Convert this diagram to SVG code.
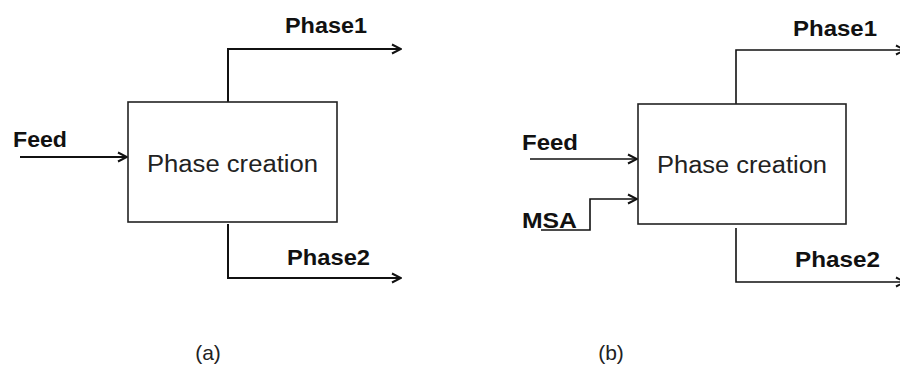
<svg xmlns="http://www.w3.org/2000/svg" width="900" height="368" viewBox="0 0 900 368">
<defs>
<marker id="arr" markerWidth="12" markerHeight="12" viewBox="0 0 12 12" refX="11" refY="6" orient="auto" markerUnits="userSpaceOnUse">
<path d="M2,1.5 L11,6 L2,10.5" fill="none" stroke="#111" stroke-width="2"/>
</marker>
<style>
.box{fill:#fff;stroke:#222;stroke-width:1.6}
.ln{fill:none;stroke:#111;stroke-width:2}
.lnb{fill:none;stroke:#111;stroke-width:1.6}
.lbl{font-family:"Liberation Sans",Arial,sans-serif;font-weight:bold;font-size:22px;fill:#111}
.pc{font-family:"Liberation Sans",Arial,sans-serif;font-size:23px;fill:#222}
.cap{font-family:"Liberation Sans",Arial,sans-serif;font-size:21px;fill:#222;text-anchor:middle}
</style>
</defs>
<rect width="900" height="368" fill="#fff"/>
<g id="connectors">
<path class="ln" d="M20,157 H127" marker-end="url(#arr)"/>
<path class="ln" d="M228,102 V49 H401" marker-end="url(#arr)"/>
<path class="ln" d="M228,224 V278 H401" marker-end="url(#arr)"/>
<path class="lnb" d="M530,159 H637" marker-end="url(#arr)"/>
<path class="lnb" d="M541,230 H590 V199 H637" marker-end="url(#arr)"/>
<path class="lnb" d="M736,104 V50 H905" marker-end="url(#arr)"/>
<path class="lnb" d="M736,228 V282 H905" marker-end="url(#arr)"/>
</g>
<g id="nodeA">
<rect class="box" x="128" y="102" width="209" height="120"/>
<text class="pc" x="147" y="172" textLength="171" lengthAdjust="spacingAndGlyphs">Phase creation</text>
</g>
<g id="labelsA">
<text class="lbl" x="13" y="147" textLength="54" lengthAdjust="spacingAndGlyphs">Feed</text>
<text class="lbl" x="285" y="33" textLength="82" lengthAdjust="spacingAndGlyphs">Phase1</text>
<text class="lbl" x="287" y="265" textLength="83" lengthAdjust="spacingAndGlyphs">Phase2</text>
</g>
<g id="nodeB">
<rect class="box" x="638" y="104" width="208" height="120"/>
<text class="pc" x="657" y="173" textLength="170" lengthAdjust="spacingAndGlyphs">Phase creation</text>
</g>
<g id="labelsB">
<text class="lbl" x="522" y="150" textLength="56" lengthAdjust="spacingAndGlyphs">Feed</text>
<text class="lbl" x="522" y="228" textLength="55" lengthAdjust="spacingAndGlyphs">MSA</text>
<text class="lbl" x="793" y="36" textLength="84" lengthAdjust="spacingAndGlyphs">Phase1</text>
<text class="lbl" x="795" y="267" textLength="85" lengthAdjust="spacingAndGlyphs">Phase2</text>
</g>
<text class="cap" x="208" y="360">(a)</text>
<text class="cap" x="611" y="360">(b)</text>
</svg>
